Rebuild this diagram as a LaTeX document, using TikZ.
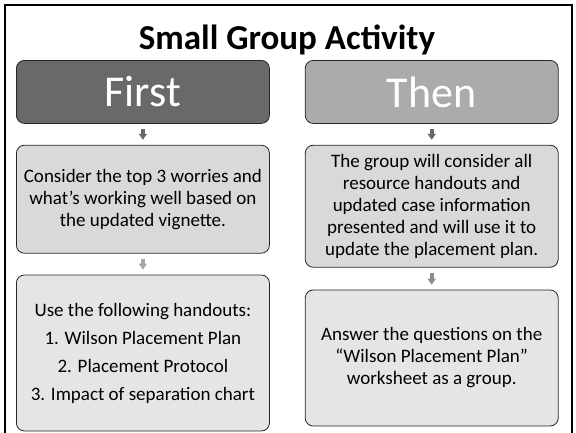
\documentclass[tikz,border=0pt]{standalone}
\usepackage{fontspec}
\setmainfont{Carlito}
\usetikzlibrary{positioning,arrows.meta}

\definecolor{headdark}{HTML}{696969}
\definecolor{headlight}{HTML}{ABABAB}
\definecolor{boxmid}{HTML}{D9D9D9}
\definecolor{boxpale}{HTML}{E5E5E5}
\definecolor{arrowpale}{HTML}{A6A6A6}
\definecolor{arrowmid}{HTML}{8C8C8C}

\begin{document}
\begin{tikzpicture}[x=1pt,y=-1pt,node distance=21pt,
    panel/.style={draw=black!85,line width=0.8pt,rounded corners=8pt,
      minimum width=253pt,inner sep=0pt,align=center,
      font=\fontsize{19}{22}\selectfont},
    header/.style={panel,minimum height=63pt,text=white,
      font=\fontsize{44}{48}\selectfont},
    flow/.style={line width=4pt,-{Triangle[length=6pt,width=8pt]},
      shorten <=5pt,shorten >=5pt}]
   \useasboundingbox (0,0) rectangle (576,432);
   \draw[line width=2pt] (5,5) rectangle (572,434);
   \node[font=\fontsize{35}{40}\selectfont\bfseries,anchor=base] (title) at (287,49) {Small Group Activity};
   % left column
   \node[header,fill=headdark,anchor=north west] (first) at (16,60) {First};
   \node[panel,fill=boxmid,minimum height=108pt] (consider) [below=of first]
     {Consider the top 3 worries and\\what’s working well based on\\the updated vignette.};
   \node[panel,fill=boxpale,minimum height=156pt] (handouts) [below=of consider]
     {Use the following handouts:\\[6pt]1. Wilson Placement Plan\\[6pt]2. Placement Protocol\\[6pt]3. Impact of separation chart};
   % right column
   \node[header,fill=headlight] (then) [right=35pt of first] {Then};
   \node[panel,fill=boxmid,minimum height=122pt] (group) [below=of then]
     {The group will consider all\\resource handouts and\\updated case information\\presented and will use it to\\update the placement plan.};
   \node[panel,fill=boxpale,minimum height=136pt] (answer) [below=22pt of group]
     {Answer the questions on the\\“Wilson Placement Plan”\\worksheet as a group.};
   \draw[flow,headdark] (first) -- (consider);
   \draw[flow,arrowpale] (consider) -- (handouts);
   \draw[flow,headdark] (then) -- (group);
   \draw[flow,arrowmid] (group) -- (answer);
\end{tikzpicture}
\end{document}
